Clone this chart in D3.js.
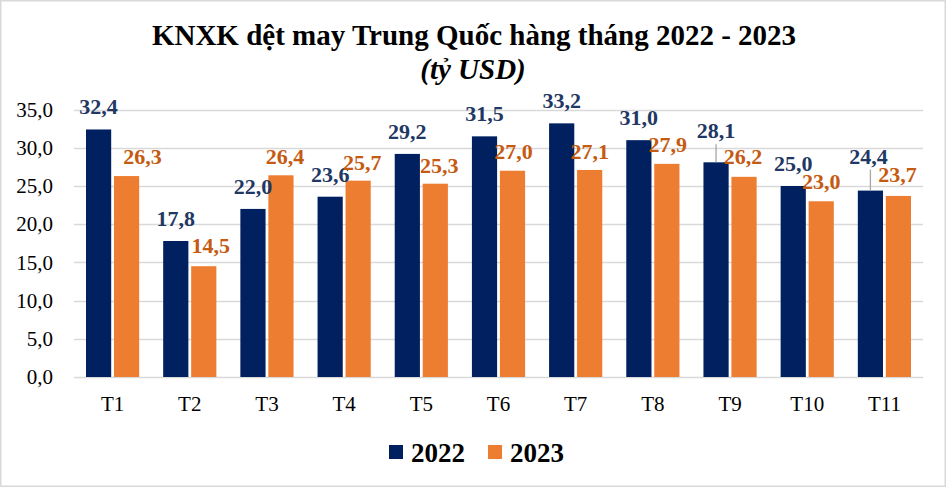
<!DOCTYPE html>
<html>
<head>
<meta charset="utf-8">
<script src="https://cdn.jsdelivr.net/npm/d3@7"></script>
<style>
  html, body { margin: 0; padding: 0; background: #fff; }
  svg { display: block; }
</style>
</head>
<body>
<svg id="chart" width="947" height="488"></svg>
<script>
// ---- data ----
const categories = ["T1","T2","T3","T4","T5","T6","T7","T8","T9","T10","T11"];
const seriesNames = ["2022","2023"];
const values2022 = [32.4, 17.8, 22.0, 23.6, 29.2, 31.5, 33.2, 31.0, 28.1, 25.0, 24.4];
const values2023 = [26.3, 14.5, 26.4, 25.7, 25.3, 27.0, 27.1, 27.9, 26.2, 23.0, 23.7];
const yTicks = [0, 5, 10, 15, 20, 25, 30, 35];
const titleText = "KNXK dệt may Trung Quốc hàng tháng 2022 - 2023";
const subtitleText = "(tỷ USD)";

// label nudges (layout only)
const labelDx2022 = [0, 0, 0, 0, 0, 0, 0, 0, 0, 0, -2];
const labelDy2022 = [0, 0, 0, 0, 0, 0, 0, 0, -9, 0, -12];
const leader2022  = [false,false,false,false,false,false,false,false,true,false,true];
const labelDx2023 = [16, 7, 4, 4, 4, 1, 0, 1, -1, 0, -1];
const labelDy2023 = [0, -1, 1, 1, 1, 0, 1, 0, -1, 0, -2];

const colors = {"2022": "#002060", "2023": "#ED7D31"};
const labelColors = {"2022": "#1F3864", "2023": "#C55A11"};

// pick an installed Times-like serif font
function detectFont(cands) {
  const c = document.createElement("canvas").getContext("2d");
  const s = "KNXK dệt may Trung Quốc 0123456789 mmmwwwiiil";
  for (const f of cands) {
    for (const base of ["monospace", "sans-serif"]) {
      c.font = `40px ${base}`;
      const w0 = c.measureText(s).width;
      c.font = `40px "${f}", ${base}`;
      const w1 = c.measureText(s).width;
      if (Math.abs(w1 - w0) > 0.5) return `"${f}", serif`;
    }
  }
  return "serif";
}
const FONT = detectFont(["Liberation Serif", "Times New Roman", "Tinos", "Nimbus Roman", "Nimbus Roman No9 L", "Times", "DejaVu Serif", "Noto Serif"]);

const svg = d3.select("#chart");

// border
svg.append("rect")
  .attr("x", 0.75).attr("y", 0.75)
  .attr("width", 944.5).attr("height", 485.5)
  .attr("fill", "#fff").attr("stroke", "#d9d9d9").attr("stroke-width", 1.5);

const plot = {left: 74, right: 923, top: 109.6, bottom: 377};

const x = d3.scaleBand().domain(categories).range([plot.left, plot.right]).padding(0);
const xs = d3.scaleBand().domain(seriesNames)
  .range([12, x.bandwidth() - 12]).paddingInner(0.1).paddingOuter(0);
const y = d3.scaleLinear().domain([0, 35]).range([plot.bottom, plot.top]);

const fmt = v => d3.format(".1f")(v).replace(".", ",");

// gridlines
svg.append("g").selectAll("line").data(yTicks).join("line")
  .attr("x1", plot.left).attr("x2", plot.right)
  .attr("y1", d => Math.round(y(d)) + 0.5).attr("y2", d => Math.round(y(d)) + 0.5)
  .attr("stroke", "#d9d9d9").attr("stroke-width", 1.5);

// y axis labels
const yAxis = d3.axisLeft(y).tickValues(yTicks).tickFormat(fmt).tickSize(0).tickPadding(0);
const yg = svg.append("g").attr("transform", `translate(${53},0)`).call(yAxis);
yg.select(".domain").remove();
yg.attr("font-family", FONT);
yg.selectAll("text").style("font-family", FONT).attr("font-size", 21).attr("fill", "#000");

// x axis labels
const xAxis = d3.axisBottom(x).tickSize(0).tickPadding(0);
const xg = svg.append("g").attr("transform", `translate(0,${plot.bottom + 19})`).call(xAxis);
xg.select(".domain").remove();
xg.attr("font-family", FONT);
xg.selectAll("text").style("font-family", FONT).attr("font-size", 21).attr("fill", "#000");

// bars
const rows = categories.map((c, i) => ({cat: c, i, "2022": values2022[i], "2023": values2023[i]}));
const barData = [];
rows.forEach(r => seriesNames.forEach(s => barData.push({cat: r.cat, i: r.i, s, v: r[s]})));

svg.append("g").selectAll("rect").data(barData).join("rect")
  .attr("x", d => x(d.cat) + xs(d.s))
  .attr("width", xs.bandwidth())
  .attr("y", d => y(d.v))
  .attr("height", d => y(0) - y(d.v))
  .attr("fill", d => colors[d.s]);

// leader lines
svg.append("g").selectAll("line").data(barData.filter(d => d.s === "2022" && leader2022[d.i])).join("line")
  .attr("x1", d => x(d.cat) + xs(d.s) + xs.bandwidth() / 2)
  .attr("x2", d => x(d.cat) + xs(d.s) + xs.bandwidth() / 2)
  .attr("y1", d => y(d.v) - 22 + labelDy2022[d.i] + 13)
  .attr("y2", d => y(d.v))
  .attr("stroke", "#a6a6a6").attr("stroke-width", 1.3);

// data labels
svg.append("g").selectAll("text").data(barData).join("text")
  .attr("x", d => x(d.cat) + xs(d.s) + xs.bandwidth() / 2 + (d.s === "2022" ? labelDx2022[d.i] : labelDx2023[d.i]))
  .attr("y", d => y(d.v) + (d.s === "2022" ? -15 + labelDy2022[d.i] : -12 + labelDy2023[d.i]))
  .attr("text-anchor", "middle")
  .style("font-family", FONT)
  .attr("font-size", 22).attr("font-weight", "bold")
  .attr("fill", d => labelColors[d.s])
  .text(d => fmt(d.v));

// title
svg.append("text").attr("x", 474).attr("y", 45).attr("text-anchor", "middle")
  .style("font-family", FONT)
  .attr("font-size", 29).attr("font-weight", "bold").attr("fill", "#000").text(titleText);
svg.append("text").attr("x", 473).attr("y", 79).attr("text-anchor", "middle")
  .style("font-family", FONT)
  .attr("font-size", 29).attr("font-weight", "bold").attr("font-style", "italic").attr("fill", "#000").text(subtitleText);

// legend
const legendX = [389, 488];
const lg = svg.append("g").selectAll("g").data(seriesNames).join("g")
  .attr("transform", (d, i) => `translate(${legendX[i]},445)`);
lg.append("rect").attr("width", 14).attr("height", 14).attr("fill", d => colors[d]);
lg.append("text").attr("x", 22).attr("y", 16.5)
  .style("font-family", FONT)
  .attr("font-size", 27).attr("font-weight", "bold").attr("fill", "#000").text(d => d);
</script>
</body>
</html>
